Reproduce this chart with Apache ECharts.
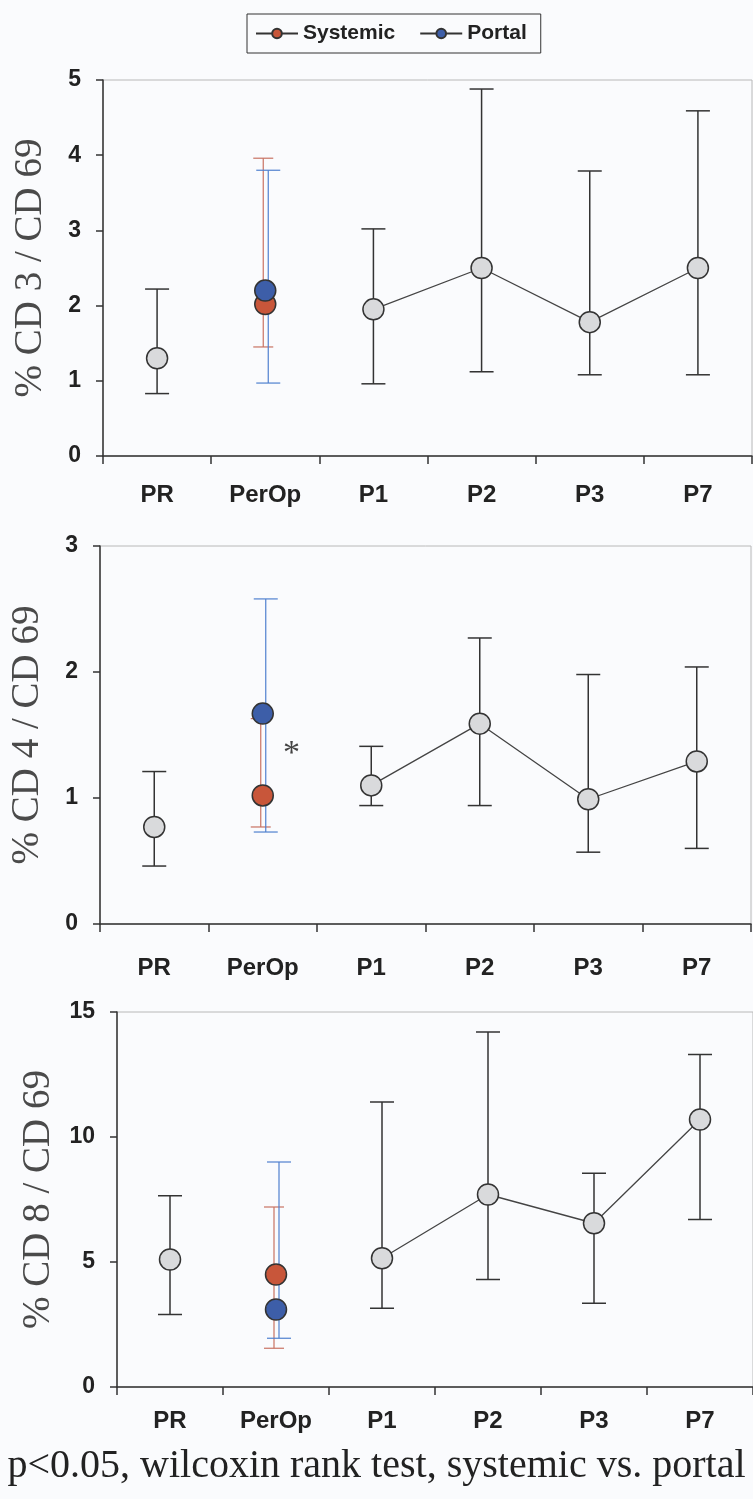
<!DOCTYPE html>
<html>
<head>
<meta charset="utf-8">
<script src="https://cdn.jsdelivr.net/npm/echarts@6/dist/echarts.min.js"></script>
<style>
  html, body { margin: 0; padding: 0; background: #fafbfd; }
  #chart { width: 753px; height: 1499px; }
</style>
</head>
<body>
<div id="chart"></div>
<script>
// categories on the x axis
const categories = ["PR", "PerOp", "P1", "P2", "P3", "P7"];

// % CD3 / CD69 : pooled mean, lower and upper error
const cd3Mean = [1.3, null, 1.95, 2.5, 1.78, 2.5];
const cd3Low = [0.83, null, 0.96, 1.12, 1.08, 1.08];
const cd3High = [2.22, null, 3.02, 4.88, 3.79, 4.59];
// PerOp split : [mean, low, high]
const cd3Systemic = [2.02, 1.45, 3.96];
const cd3Portal = [2.2, 0.97, 3.8];

// % CD4 / CD69
const cd4Mean = [0.77, null, 1.1, 1.59, 0.99, 1.29];
const cd4Low = [0.46, null, 0.94, 0.94, 0.57, 0.6];
const cd4High = [1.21, null, 1.41, 2.27, 1.98, 2.04];
const cd4Systemic = [1.02, 0.77, 1.63];
const cd4Portal = [1.67, 0.73, 2.58];

// % CD8 / CD69
const cd8Mean = [5.1, null, 5.15, 7.7, 6.55, 10.7];
const cd8Low = [2.9, null, 3.15, 4.3, 3.35, 6.7];
const cd8High = [7.65, null, 11.4, 14.2, 8.55, 13.3];
const cd8Systemic = [4.5, 1.55, 7.2];
const cd8Portal = [3.1, 1.95, 9.0];

// y axis ranges
const yMax = [5, 3, 15];
const yStep = [1, 1, 5];
const yNames = ["% CD 3 / CD 69", "% CD 4 / CD 69", "% CD 8 / CD 69"];

const SYS_COLOR = "#c8563a";
const POR_COLOR = "#3d5ea8";

const chart = echarts.init(document.getElementById("chart"));

// error bar drawer
function errRender(dx, cap, color, width) {
  return function (params, api) {
    const lo = api.coord([api.value(0), api.value(1)]);
    const hi = api.coord([api.value(0), api.value(2)]);
    const cx = lo[0] + dx;
    const style = { stroke: color, lineWidth: width };
    return {
      type: "group",
      children: [
        { type: "line", shape: { x1: cx, y1: hi[1], x2: cx, y2: lo[1] }, style: style },
        { type: "line", shape: { x1: cx - cap / 2, y1: hi[1], x2: cx + cap / 2, y2: hi[1] }, style: style },
        { type: "line", shape: { x1: cx - cap / 2, y1: lo[1], x2: cx + cap / 2, y2: lo[1] }, style: style }
      ]
    };
  };
}

const panels = [
  { mean: cd3Mean, low: cd3Low, high: cd3High, sys: cd3Systemic, por: cd3Portal },
  { mean: cd4Mean, low: cd4Low, high: cd4High, sys: cd4Systemic, por: cd4Portal },
  { mean: cd8Mean, low: cd8Low, high: cd8High, sys: cd8Systemic, por: cd8Portal }
];

const grids = [
  { left: 103, top: 80, width: 649, height: 376 },
  { left: 100, top: 546, width: 651, height: 378 },
  { left: 117, top: 1012, width: 642, height: 375 }
];
const labelMargins = [27, 32, 22];

const xAxes = [];
const yAxes = [];
const series = [];

grids.forEach((g, i) => {
  g.show = true;
  g.borderColor = "#b8b8b8";
  g.borderWidth = 1;
  g.backgroundColor = "transparent";

  xAxes.push({
    gridIndex: i,
    type: "category",
    data: categories,
    boundaryGap: true,
    axisLine: { lineStyle: { color: "#333", width: 1.5 } },
    axisTick: { show: true, length: 8, lineStyle: { color: "#333", width: 1.5 } },
    axisLabel: {
      margin: labelMargins[i],
      color: "#222",
      fontFamily: "Liberation Sans, Arial",
      fontWeight: "bold",
      fontSize: 24
    }
  });

  yAxes.push({
    gridIndex: i,
    type: "value",
    min: 0,
    max: yMax[i],
    interval: yStep[i],
    name: yNames[i],
    nameLocation: "middle",
    nameGap: 53,
    nameTextStyle: {
      fontFamily: "Liberation Serif, Times New Roman",
      fontSize: 39,
      color: "#4a4a4a"
    },
    axisLine: { show: true, lineStyle: { color: "#333", width: 1.5 } },
    axisTick: { show: true, length: 7, lineStyle: { color: "#333", width: 1.5 } },
    splitLine: { show: false },
    axisLabel: {
      margin: 22,
      color: "#222",
      fontFamily: "Liberation Sans, Arial",
      fontWeight: "bold",
      fontSize: 23
    }
  });

  const p = panels[i];
  const perOp = categories.indexOf("PerOp");

  // pooled error bars
  series.push({
    type: "custom",
    xAxisIndex: i,
    yAxisIndex: i,
    z: 1,
    silent: true,
    renderItem: errRender(0, 24, "#333", 1.5),
    data: categories.map((c, k) => (p.low[k] === null ? null : [k, p.low[k], p.high[k]])).filter(d => d)
  });
  // systemic / portal error bars
  series.push({
    type: "custom",
    xAxisIndex: i,
    yAxisIndex: i,
    z: 1,
    silent: true,
    renderItem: errRender(-2, 20, "#c87262", 1.2),
    data: [[perOp, p.sys[1], p.sys[2]]]
  });
  series.push({
    type: "custom",
    xAxisIndex: i,
    yAxisIndex: i,
    z: 1,
    silent: true,
    renderItem: errRender(3, 24, "#4f80cf", 1.2),
    data: [[perOp, p.por[1], p.por[2]]]
  });

  // pooled means
  series.push({
    type: "line",
    xAxisIndex: i,
    yAxisIndex: i,
    z: 3,
    connectNulls: false,
    symbol: "circle",
    symbolSize: 21,
    lineStyle: { color: "#444", width: 1.3 },
    itemStyle: { color: "#d9dadc", borderColor: "#333", borderWidth: 1.5 },
    data: p.mean.map(v => (v === null ? "-" : v))
  });

  series.push({
    name: "Systemic",
    type: "line",
    xAxisIndex: i,
    yAxisIndex: i,
    z: 4,
    symbol: "circle",
    symbolSize: 21,
    lineStyle: { color: "#333", width: 1.3 },
    itemStyle: { color: SYS_COLOR, borderColor: "#333", borderWidth: 1.5 },
    data: categories.map((c, k) => (k === perOp ? p.sys[0] : "-"))
  });
  series.push({
    name: "Portal",
    type: "line",
    xAxisIndex: i,
    yAxisIndex: i,
    z: 5,
    symbol: "circle",
    symbolSize: 21,
    lineStyle: { color: "#333", width: 1.3 },
    itemStyle: { color: POR_COLOR, borderColor: "#333", borderWidth: 1.5 },
    data: categories.map((c, k) => (k === perOp ? p.por[0] : "-"))
  });
});

chart.setOption({
  animation: false,
  backgroundColor: "#fafbfd",
  legend: {
    data: ["Systemic", "Portal"],
    left: 247,
    top: 14,
    padding: [9, 14, 9, 8],
    itemWidth: 42,
    itemHeight: 12,
    itemGap: 24,
    borderColor: "#333",
    borderWidth: 1,
    textStyle: {
      fontFamily: "Liberation Sans, Arial",
      fontWeight: "bold",
      fontSize: 21,
      color: "#222"
    }
  },
  grid: grids,
  xAxis: xAxes,
  yAxis: yAxes,
  series: series,
  graphic: [
    {
      type: "text",
      left: 283,
      top: 737,
      style: { text: "*", font: "34px Liberation Serif", fill: "#444" }
    },
    {
      type: "text",
      left: "center",
      top: 1446,
      style: {
        text: "p<0.05, wilcoxin rank test, systemic vs. portal",
        font: "40px Liberation Serif",
        fill: "#222"
      }
    }
  ]
});
</script>
</body>
</html>
